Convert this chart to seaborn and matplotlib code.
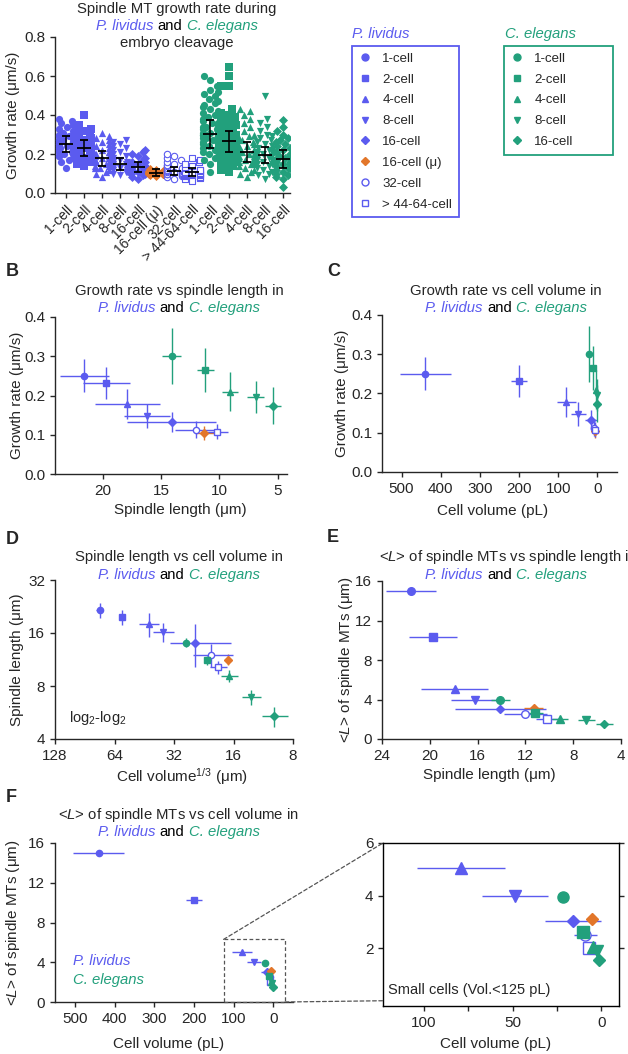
import numpy as np
import pandas as pd
import matplotlib
matplotlib.use("Agg")
import matplotlib.pyplot as plt
import seaborn as sns
from matplotlib.lines import Line2D
from matplotlib.patches import Rectangle, ConnectionPatch
from matplotlib.ticker import FuncFormatter, NullLocator, MultipleLocator
from matplotlib.transforms import blended_transform_factory

# ---- data --------------------------------------------------------------
BLUE = "#5b5bef"
GREEN = "#22a07c"
ORANGE = "#e2762a"

pl_stages = ["1-cell", "2-cell", "4-cell", "8-cell", "16-cell", "16-cell (μ)", "32-cell", "> 44-64-cell"]
ce_stages = ["1-cell", "2-cell", "4-cell", "8-cell", "16-cell"]

# growth rate (um/s), mean and SD
pl_rate = [0.25, 0.232, 0.178, 0.148, 0.132, 0.105, 0.113, 0.108]
pl_rate_sd = [0.042, 0.04, 0.038, 0.03, 0.026, 0.018, 0.022, 0.02]
ce_rate = [0.301, 0.265, 0.21, 0.197, 0.174]
ce_rate_sd = [0.072, 0.055, 0.05, 0.041, 0.047]

# spindle length (um)
pl_len = [21.6, 19.7, 17.9, 16.2, 14.1, 11.3, 12.0, 10.2]
pl_len_sd = [2.1, 2.0, 2.8, 2.0, 3.8, 0.8, 1.8, 0.9]
ce_len = [14.1, 11.2, 9.1, 6.9, 5.4]
ce_len_sd = [0.8, 0.7, 0.7, 0.7, 0.7]

# cell volume (pL)
pl_vol = [440, 200, 79, 48.5, 15.8, 5, 9, 7]
pl_vol_sd = [65, 20, 25, 18.5, 15.8, 2, 6.5, 3]
ce_vol = [21.5, 10.2, 4.8, 2.2, 1.0]
ce_vol_sd = [2.5, 1.5, 0.8, 0.5, 0.3]

# SD of cell volume^1/3 (um)
pl_cbrt_sd = [3.3, 2.0, 5.0, 4.6, 8.6, 0.5, 4.8, 1.9]
ce_cbrt_sd = [1.0, 1.0, 1.6, 1.45, 1.5]

# <L> of spindle MTs (um)
pl_L = [15.0, 10.3, 5.05, 4.0, 3.05, 3.1, 2.5, 2.0]
ce_L = [3.95, 2.6, 2.05, 1.9, 1.55]

# individual growth rates per stage (panel A)
pl_1 = [0.13, 0.16, 0.17, 0.18, 0.19, 0.19, 0.20, 0.20, 0.21, 0.21, 0.22, 0.22, 0.22, 0.23, 0.23, 0.23,
        0.24, 0.24, 0.24, 0.25, 0.25, 0.25, 0.25, 0.26, 0.26, 0.26, 0.27, 0.27, 0.27, 0.28, 0.28, 0.29,
        0.29, 0.30, 0.30, 0.31, 0.32, 0.33, 0.34, 0.35, 0.36, 0.37, 0.38]
pl_2 = [0.14, 0.15, 0.16, 0.17, 0.18, 0.18, 0.19, 0.19, 0.20, 0.20, 0.21, 0.21, 0.22, 0.22, 0.22, 0.23,
        0.23, 0.23, 0.24, 0.24, 0.24, 0.25, 0.25, 0.26, 0.26, 0.27, 0.27, 0.28, 0.29, 0.30, 0.31, 0.32,
        0.33, 0.35, 0.40]
pl_4 = [0.08, 0.10, 0.11, 0.12, 0.13, 0.13, 0.14, 0.14, 0.15, 0.15, 0.16, 0.16, 0.17, 0.17, 0.17, 0.18,
        0.18, 0.18, 0.19, 0.19, 0.20, 0.20, 0.21, 0.21, 0.22, 0.23, 0.24, 0.25, 0.26, 0.27, 0.28, 0.29, 0.31]
pl_8 = [0.09, 0.10, 0.11, 0.11, 0.12, 0.12, 0.13, 0.13, 0.13, 0.14, 0.14, 0.14, 0.15, 0.15, 0.15, 0.16,
        0.16, 0.17, 0.17, 0.18, 0.19, 0.20, 0.21, 0.22, 0.23, 0.24, 0.25, 0.26, 0.27]
pl_16 = [0.07, 0.08, 0.09, 0.10, 0.10, 0.11, 0.11, 0.12, 0.12, 0.12, 0.13, 0.13, 0.13, 0.14, 0.14, 0.14,
         0.15, 0.15, 0.16, 0.16, 0.17, 0.18, 0.19, 0.20, 0.21, 0.22]
pl_16m = [0.085, 0.09, 0.095, 0.095, 0.10, 0.10, 0.10, 0.105, 0.105, 0.105, 0.11, 0.11, 0.11, 0.115,
          0.115, 0.12, 0.125]
pl_32 = [0.07, 0.08, 0.085, 0.09, 0.095, 0.10, 0.10, 0.105, 0.11, 0.11, 0.115, 0.115, 0.12, 0.12, 0.125,
         0.13, 0.13, 0.14, 0.145, 0.15, 0.16, 0.17, 0.18, 0.19, 0.20]
pl_64 = [0.06, 0.07, 0.075, 0.08, 0.085, 0.09, 0.09, 0.095, 0.10, 0.10, 0.105, 0.105, 0.11, 0.11, 0.115,
         0.12, 0.12, 0.13, 0.135, 0.14, 0.15, 0.16, 0.17, 0.18]
ce_1 = [0.11, 0.15, 0.17, 0.18, 0.19, 0.20, 0.21, 0.22, 0.22, 0.23, 0.24, 0.24, 0.25, 0.25, 0.26, 0.26,
        0.27, 0.27, 0.28, 0.28, 0.29, 0.29, 0.30, 0.30, 0.30, 0.31, 0.31, 0.32, 0.32, 0.33, 0.33, 0.34,
        0.34, 0.35, 0.36, 0.36, 0.37, 0.38, 0.39, 0.40, 0.41, 0.42, 0.43, 0.44, 0.45, 0.46, 0.47, 0.48,
        0.50, 0.51, 0.52, 0.53, 0.55, 0.58, 0.60]
ce_2 = [0.11, 0.12, 0.14, 0.15, 0.16, 0.17, 0.18, 0.19, 0.20, 0.20, 0.21, 0.21, 0.22, 0.22, 0.23, 0.23,
        0.24, 0.24, 0.25, 0.25, 0.26, 0.26, 0.27, 0.27, 0.28, 0.28, 0.29, 0.30, 0.30, 0.31, 0.32, 0.33,
        0.34, 0.35, 0.36, 0.37, 0.38, 0.39, 0.40, 0.41, 0.43, 0.55, 0.55, 0.60, 0.645]
ce_4 = [0.08, 0.10, 0.11, 0.12, 0.13, 0.14, 0.15, 0.15, 0.16, 0.17, 0.17, 0.18, 0.18, 0.19, 0.19, 0.20,
        0.20, 0.21, 0.21, 0.22, 0.22, 0.23, 0.23, 0.24, 0.24, 0.25, 0.26, 0.27, 0.28, 0.29, 0.30, 0.32,
        0.34, 0.36, 0.38, 0.40, 0.42, 0.43]
ce_8 = [0.07, 0.09, 0.10, 0.11, 0.12, 0.13, 0.14, 0.15, 0.15, 0.16, 0.17, 0.17, 0.18, 0.18, 0.19, 0.19,
        0.20, 0.20, 0.21, 0.21, 0.22, 0.22, 0.23, 0.24, 0.25, 0.26, 0.27, 0.28, 0.29, 0.30, 0.32, 0.34,
        0.36, 0.38, 0.50]
ce_16 = [0.03, 0.07, 0.08, 0.09, 0.10, 0.11, 0.12, 0.13, 0.13, 0.14, 0.15, 0.15, 0.16, 0.16, 0.17, 0.17,
         0.18, 0.18, 0.19, 0.19, 0.20, 0.21, 0.22, 0.23, 0.24, 0.25, 0.26, 0.27, 0.28, 0.30, 0.32, 0.34, 0.375]

# ---- styling ------------------------------------------------------------
pl_markers = ["o", "s", "^", "v", "D", "D", "o", "s"]
pl_colors = [BLUE, BLUE, BLUE, BLUE, BLUE, ORANGE, BLUE, BLUE]
pl_hollow = [False, False, False, False, False, False, True, True]
ce_markers = ["o", "s", "^", "v", "D"]

sns.set_style("ticks")
plt.rcParams["font.family"] = ["Liberation Sans", "DejaVu Sans"]
plt.rcParams["mathtext.fontset"] = "custom"
plt.rcParams["mathtext.rm"] = "Liberation Sans"
plt.rcParams["mathtext.it"] = "Liberation Sans:italic"
plt.rcParams["mathtext.bf"] = "Liberation Sans:bold"
plt.rcParams["axes.linewidth"] = 1.0
plt.rcParams["xtick.major.width"] = 1.0
plt.rcParams["ytick.major.width"] = 1.0
plt.rcParams["xtick.major.size"] = 3.5
plt.rcParams["ytick.major.size"] = 3.5
plt.rcParams["xtick.labelsize"] = 11
plt.rcParams["ytick.labelsize"] = 11
plt.rcParams["axes.labelsize"] = 11

TITLE = 10.7
W, H = 628, 1054
fig = plt.figure(figsize=(W / 100, H / 100), dpi=100)


def add_ax(x0, y0, x1, y1):
    return fig.add_axes([x0 / W, 1 - y1 / H, (x1 - x0) / W, (y1 - y0) / H])


def ftext(x, y, s, **kw):
    kw.setdefault("ha", "center")
    kw.setdefault("va", "center")
    return fig.text(x / W, 1 - y / H, s, **kw)


def label_pos(ax, xlab_c=None, ylab_c=None):
    # positions given as label centre in picture pixels
    if xlab_c is not None:
        ax.xaxis.set_label_coords(xlab_c[0] / W, 1 - (xlab_c[1] - 8) / H, transform=fig.transFigure)
    if ylab_c is not None:
        tr = blended_transform_factory(fig.transFigure, ax.transAxes)
        ax.yaxis.set_label_coords((ylab_c + 7) / W, 0.5, transform=tr)


def species_line(xc, y, size=TITLE):
    parts = [("P. lividus", BLUE, "italic"), ("and", "black", "normal"), ("C. elegans", GREEN, "italic")]
    texts = [ftext(0, y, s, color=c, style=st, fontsize=size, ha="left") for s, c, st in parts]
    r = fig.canvas.get_renderer()
    probe1 = fig.text(0, 0, "x x", fontsize=size)
    probe2 = fig.text(0, 0, "xx", fontsize=size)
    sp = probe1.get_window_extent(r).width - probe2.get_window_extent(r).width
    probe1.remove()
    probe2.remove()
    ws = [t.get_window_extent(r).width for t in texts]
    x0 = xc - (sum(ws) + 2 * sp) / 2
    for t, w in zip(texts, ws):
        t.set_x(x0 / W)
        x0 += w + sp


def draw_points(ax, xs, ys, xerrs, yerrs, markers, colors, hollow, ms=4.5):
    for i in range(len(xs)):
        size = ms * 0.8 if markers[i] == "D" else ms
        ax.errorbar(xs[i], ys[i],
                    xerr=None if xerrs is None else xerrs[i],
                    yerr=None if yerrs is None else yerrs[i],
                    fmt=markers[i], color=colors[i], ms=size,
                    mfc="white" if hollow[i] else colors[i], mec=colors[i],
                    mew=1.0, elinewidth=1.0, capsize=0, zorder=3)


def both(ax, pl_x, pl_y, ce_x, ce_y, pl_xe=None, pl_ye=None, ce_xe=None, ce_ye=None, ms=4.5):
    draw_points(ax, pl_x, pl_y, pl_xe, pl_ye, pl_markers, pl_colors, pl_hollow, ms)
    draw_points(ax, ce_x, ce_y, ce_xe, ce_ye, ce_markers, [GREEN] * 5, [False] * 5, ms)


# ---- panel A: swarm of growth rates --------------------------------------
order = ["pl1", "pl2", "pl4", "pl8", "pl16", "pl16m", "pl32", "pl64", "ce1", "ce2", "ce4", "ce8", "ce16"]
swarms = [pl_1, pl_2, pl_4, pl_8, pl_16, pl_16m, pl_32, pl_64, ce_1, ce_2, ce_4, ce_8, ce_16]
rows = []
for key, vals in zip(order, swarms):
    for v in vals:
        rows.append((key, v))
dfA = pd.DataFrame(rows, columns=["group", "rate"])

all_markers = pl_markers + ce_markers
all_colors = pl_colors + [GREEN] * 5
all_hollow = pl_hollow + [False] * 5

axA = add_ax(55, 37, 290, 193)
for i, key in enumerate(order):
    sub = dfA[dfA["group"] == key]
    if all_hollow[i]:
        sns.swarmplot(data=sub, x="group", y="rate", order=order, ax=axA, marker=all_markers[i],
                      color="white", edgecolor=all_colors[i], linewidth=0.8, size=4.6, warn_thresh=1)
    else:
        sns.swarmplot(data=sub, x="group", y="rate", order=order, ax=axA, marker=all_markers[i],
                      color=all_colors[i], linewidth=0, size=5.2 if all_markers[i] != "D" else 4.6,
                      warn_thresh=1)
axA.errorbar(range(13), pl_rate + ce_rate, yerr=pl_rate_sd + ce_rate_sd, fmt="_", color="black",
             ms=10, mew=1.3, elinewidth=1.1, capsize=3, capthick=1.1, zorder=10)
axA.set_xlim(-0.6, 12.4)
axA.set_ylim(0, 0.8)
axA.set_yticks([0, 0.2, 0.4, 0.6, 0.8])
axA.yaxis.set_major_formatter(FuncFormatter(lambda v, p: f"{v:.1f}"))
axA.set_xticks(range(13))
axA.set_xticklabels(pl_stages + ce_stages, rotation=45, ha="right", rotation_mode="anchor", fontsize=10)
axA.set_xlabel("")
axA.set_ylabel("Growth rate (μm/s)")
label_pos(axA, ylab_c=13)
sns.despine(ax=axA)
ftext(177, 9, "Spindle MT growth rate during", fontsize=TITLE)
species_line(177, 26)
ftext(177, 43, "embryo cleavage", fontsize=TITLE)

# legends
pl_handles = [Line2D([], [], ls="none", marker=m, ms=5 if m != "D" else 4, color=c,
                     mfc="white" if h else c, mec=c, mew=1.0)
              for m, c, h in zip(pl_markers, pl_colors, pl_hollow)]
ce_handles = [Line2D([], [], ls="none", marker=m, ms=5 if m != "D" else 4, color=GREEN)
              for m in ce_markers]
leg_kw = dict(loc="upper left", frameon=True, fancybox=False, fontsize=9.5, handlelength=1.0,
              handletextpad=0.8, borderpad=0.5, labelspacing=0.65, borderaxespad=0, framealpha=1)
leg1 = fig.legend(pl_handles, pl_stages, bbox_to_anchor=(352 / W, 1 - 46 / H), edgecolor=BLUE, **leg_kw)
leg1.get_frame().set_linewidth(1.3)
leg2 = fig.legend(ce_handles, ce_stages, bbox_to_anchor=(504 / W, 1 - 155 / H, 109 / W, 109 / H),
                  mode="expand", edgecolor=GREEN, **leg_kw)
leg2.get_frame().set_linewidth(1.3)
ftext(352, 34, "P. lividus", color=BLUE, style="italic", fontsize=TITLE, ha="left")
ftext(505, 34, "C. elegans", color=GREEN, style="italic", fontsize=TITLE, ha="left")

# ---- panel B: growth rate vs spindle length -------------------------------
axB = add_ax(55, 317, 287, 474)
both(axB, pl_len, pl_rate, ce_len, ce_rate, pl_len_sd, pl_rate_sd, ce_len_sd, ce_rate_sd)
axB.set_xlim(24.1, 4.2)
axB.set_ylim(0, 0.4)
axB.set_xticks([20, 15, 10, 5])
axB.set_yticks([0, 0.1, 0.2, 0.3, 0.4])
axB.yaxis.set_major_formatter(FuncFormatter(lambda v, p: f"{v:.1f}"))
axB.set_xlabel("Spindle length (μm)")
axB.set_ylabel("Growth rate (μm/s)")
label_pos(axB, (180, 511), 17)
sns.despine(ax=axB)
ftext(6, 272, "B", fontsize=13, weight="bold", ha="left")
ftext(179, 291, "Growth rate vs spindle length in", fontsize=TITLE)
species_line(179, 308)

# ---- panel C: growth rate vs cell volume ----------------------------------
axC = add_ax(382, 315, 617, 472)
both(axC, pl_vol, pl_rate, ce_vol, ce_rate, pl_vol_sd, pl_rate_sd, ce_vol_sd, ce_rate_sd)
axC.set_xlim(550, -50)
axC.set_ylim(0, 0.4)
axC.set_xticks([500, 400, 300, 200, 100, 0])
axC.set_yticks([0, 0.1, 0.2, 0.3, 0.4])
axC.yaxis.set_major_formatter(FuncFormatter(lambda v, p: f"{v:.1f}"))
axC.set_xlabel("Cell volume (pL)")
axC.set_ylabel("Growth rate (μm/s)")
label_pos(axC, (493, 512), 342)
sns.despine(ax=axC)
ftext(327, 272, "C", fontsize=13, weight="bold", ha="left")
ftext(506, 291, "Growth rate vs cell volume in", fontsize=TITLE)
species_line(506, 308)

# ---- panel D: spindle length vs cell volume^1/3 (log2-log2) -----------------
pl_cbrt = [10 * v ** (1 / 3) for v in pl_vol]
ce_cbrt = [10 * v ** (1 / 3) for v in ce_vol]
axD = add_ax(55, 580, 293, 739)
both(axD, pl_cbrt, pl_len, ce_cbrt, ce_len, pl_cbrt_sd, pl_len_sd, ce_cbrt_sd, ce_len_sd)
axD.set_xscale("log", base=2)
axD.set_yscale("log", base=2)
axD.set_xlim(128, 8)
axD.set_ylim(4, 32)
axD.set_xticks([128, 64, 32, 16, 8])
axD.set_yticks([4, 8, 16, 32])
for axis in (axD.xaxis, axD.yaxis):
    axis.set_major_formatter(FuncFormatter(lambda v, p: f"{v:g}"))
    axis.set_minor_locator(NullLocator())
axD.set_xlabel(r"Cell volume$^{\mathrm{1/3}}$ (μm)")
axD.set_ylabel("Spindle length (μm)")
label_pos(axD, (182, 774), 17)
sns.despine(ax=axD)
axD.text(0.06, 0.13, r"log$_2$-log$_2$", transform=axD.transAxes, fontsize=10.5, va="center")
ftext(6, 540, "D", fontsize=13, weight="bold", ha="left")
ftext(179, 557, "Spindle length vs cell volume in", fontsize=TITLE)
species_line(179, 575)

# ---- panel E: <L> vs spindle length ------------------------------------------
axE = add_ax(382, 581, 621, 739)
both(axE, pl_len, pl_L, ce_len, ce_L, pl_len_sd, None, ce_len_sd, None, ms=5.5)
axE.set_xlim(24, 4)
axE.set_ylim(0, 16)
axE.set_xticks([24, 20, 16, 12, 8, 4])
axE.set_yticks([0, 4, 8, 12, 16])
axE.set_xlabel("Spindle length (μm)")
axE.set_ylabel(r"<$L$> of spindle MTs (μm)")
label_pos(axE, (489, 776), 348)
sns.despine(ax=axE)
ftext(327, 538, "E", fontsize=13, weight="bold", ha="left")
ftext(379, 557, r"<$L$> of spindle MTs vs spindle length in", fontsize=TITLE, ha="left")
species_line(506, 575)

# ---- panel F: <L> vs cell volume + inset ---------------------------------------
axF = add_ax(55, 843, 293, 1002)
both(axF, pl_vol, pl_L, ce_vol, ce_L, pl_vol_sd, None, ce_vol_sd, None, ms=4.5)
axF.set_xlim(550, -50)
axF.set_ylim(0, 16)
axF.set_xticks([500, 400, 300, 200, 100, 0])
axF.set_yticks([0, 4, 8, 12, 16])
axF.set_xlabel("Cell volume (pL)")
axF.set_ylabel(r"<$L$> of spindle MTs (μm)")
label_pos(axF, (169, 1045), 15)
sns.despine(ax=axF)
axF.text(0.076, 0.258, "P. lividus", color=BLUE, style="italic", fontsize=TITLE, va="center",
         transform=axF.transAxes)
axF.text(0.076, 0.138, "C. elegans", color=GREEN, style="italic", fontsize=TITLE, va="center",
         transform=axF.transAxes)
axF.add_patch(Rectangle((125, 0), -155, 6.3, fill=False, ls=(0, (3, 2)), lw=0.9, ec="#555555",
                        clip_on=False, zorder=5))
ftext(6, 797, "F", fontsize=13, weight="bold", ha="left")
ftext(178, 815, r"<$L$> of spindle MTs vs cell volume in", fontsize=TITLE)
species_line(179, 832)

axG = add_ax(383, 843, 619, 1006)
both(axG, pl_vol, pl_L, ce_vol, ce_L, pl_vol_sd, None, ce_vol_sd, None, ms=8)
axG.set_xlim(123, -10)
axG.set_ylim(-0.2, 6)
axG.set_xticks([100, 50, 0])
axG.xaxis.set_minor_locator(MultipleLocator(25))
axG.tick_params(axis="x", which="minor", length=3.5, width=1.0)
axG.set_yticks([2, 4, 6])
axG.tick_params(axis="y", right=True)
axG.set_xlabel("Cell volume (pL)")
label_pos(axG, (496, 1045))
axG.text(0.02, 0.1, "Small cells (Vol.<125 pL)", transform=axG.transAxes, fontsize=10.5, va="center")
for sp in axG.spines.values():
    sp.set_color("black")

for xyA, xyB in [((125, 6.3), (123, 6)), ((-30, 0), (123, 0))]:
    con = ConnectionPatch(xyA=xyA, coordsA=axF.transData, xyB=xyB, coordsB=axG.transData,
                          ls=(0, (3, 2)), lw=0.9, color="#555555")
    fig.add_artist(con)

fig.savefig("out.png", dpi=100)
